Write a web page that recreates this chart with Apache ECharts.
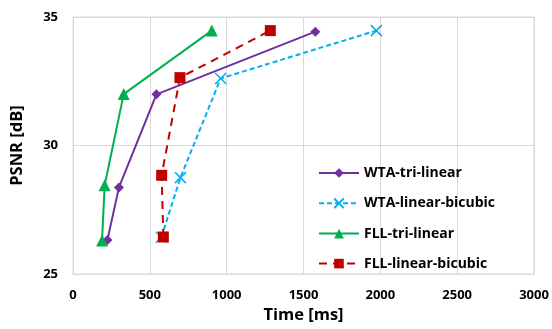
<!DOCTYPE html>
<html><head><meta charset="utf-8">
<script src="https://cdn.jsdelivr.net/npm/echarts@6/dist/echarts.min.js"></script>
<style>html,body{margin:0;padding:0;background:#fff}#c{width:552px;height:329px}</style>
</head><body><div id="c"></div>
<script>
const seriesNames = ['WTA-tri-linear','WTA-linear-bicubic','FLL-tri-linear','FLL-linear-bicubic'];
const wtaTriTime = [224, 299, 543, 1577];
const wtaTriPsnr = [26.32, 28.37, 31.99, 34.43];
const wtaBicTime = [575, 699, 961, 1974];
const wtaBicPsnr = [26.43, 28.75, 32.61, 34.47];
const fllTriTime = [189, 206, 330, 903];
const fllTriPsnr = [26.3, 28.45, 32.0, 34.47];
const fllBicTime = [588, 577, 696, 1284];
const fllBicPsnr = [26.44, 28.84, 32.64, 34.47];
const xTicks = [0, 500, 1000, 1500, 2000, 2500, 3000];
const yTicks = [25, 30, 35];

const pairs = (xs, ys) => xs.map((x, i) => [x, ys[i]]);
const font = '"Open Sans", sans-serif';
const chart = echarts.init(document.getElementById('c'));
chart.setOption({
  animation: false,
  grid: {left: 73, right: 18, top: 17, bottom: 55, show: true, borderColor: '#d9d9d9', borderWidth: 1},
  xAxis: {
    type: 'value', min: xTicks[0], max: xTicks[xTicks.length-1], interval: 500,
    name: 'Time [ms]', nameLocation: 'middle', nameGap: 30,
    nameTextStyle: {fontFamily: font, fontWeight: 'bold', fontSize: 16.5, color: '#000'},
    axisLine: {show: true, lineStyle: {color: '#d9d9d9'}}, axisTick: {show: false},
    axisLabel: {fontFamily: font, fontWeight: 'bold', fontSize: 13, color: '#000', margin: 15,
      formatter: v => String(v)},
    splitLine: {lineStyle: {color: '#d9d9d9'}}
  },
  yAxis: {
    type: 'value', min: yTicks[0], max: yTicks[yTicks.length-1], interval: 5,
    name: 'PSNR [dB]', nameLocation: 'middle', nameGap: 47, nameRotate: 90,
    nameTextStyle: {fontFamily: font, fontWeight: 'bold', fontSize: 16.5, color: '#000'},
    axisLine: {show: true, lineStyle: {color: '#d9d9d9'}}, axisTick: {show: false},
    axisLabel: {fontFamily: font, fontWeight: 'bold', fontSize: 13, color: '#000', margin: 15},
    splitLine: {lineStyle: {color: '#d9d9d9'}}
  },
  legend: {
    orient: 'vertical', left: 313, top: 161, itemWidth: 40, itemHeight: 12, itemGap: 16,
    textStyle: {fontFamily: font, fontWeight: 'bold', fontSize: 14, color: '#000'},
    data: seriesNames
  },
  series: [
    {name: seriesNames[0], type: 'line', data: pairs(wtaTriTime, wtaTriPsnr),
     symbol: 'diamond', symbolSize: 10, lineStyle: {color: '#7030a0', width: 2},
     itemStyle: {color: '#7030a0'}},
    {name: seriesNames[1], type: 'line', data: pairs(wtaBicTime, wtaBicPsnr),
     symbol: 'path://M0,0L10,10M10,0L0,10', symbolSize: 11,
     lineStyle: {color: '#00b0f0', width: 2, type: [5, 3]},
     itemStyle: {color: 'none', borderColor: '#00b0f0', borderWidth: 1.5}},
    {name: seriesNames[2], type: 'line', data: pairs(fllTriTime, fllTriPsnr),
     symbol: 'triangle', symbolSize: 12, lineStyle: {color: '#00b050', width: 2},
     itemStyle: {color: '#00b050'}},
    {name: seriesNames[3], type: 'line', data: pairs(fllBicTime, fllBicPsnr),
     symbol: 'rect', symbolSize: 11, lineStyle: {color: '#c00000', width: 2, type: [8, 6]},
     itemStyle: {color: '#c00000'}}
  ]
});
</script></body></html>
